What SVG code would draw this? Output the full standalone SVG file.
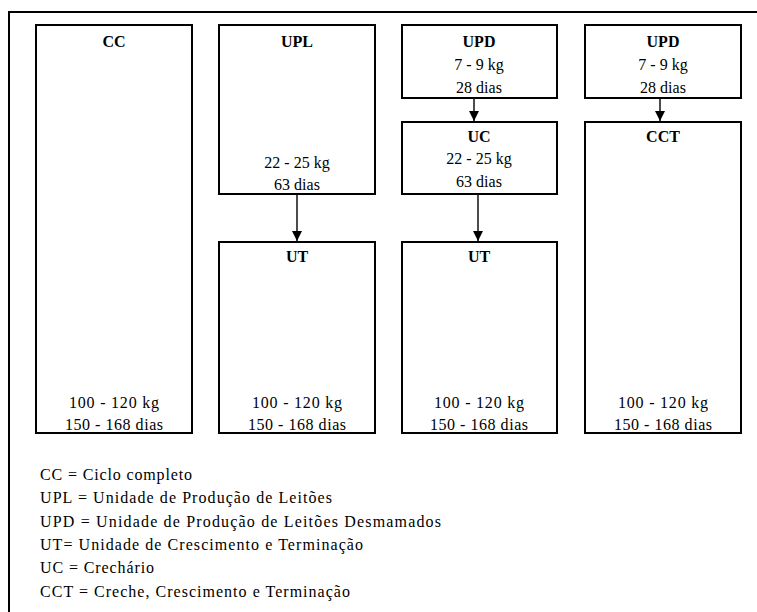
<svg xmlns="http://www.w3.org/2000/svg" width="757" height="612" viewBox="0 0 757 612">
<defs>
  <marker id="arr" markerWidth="10" markerHeight="10" refX="10" refY="5" orient="auto" markerUnits="userSpaceOnUse">
    <path d="M0,0 L10,5 L0,10 Z" fill="#000"/>
  </marker>
</defs>
<rect x="0" y="0" width="757" height="612" fill="#fff"/>
<rect x="9" y="12" width="760" height="620" fill="none" stroke="#000" stroke-width="2"/>

<g id="cc">
  <rect x="36" y="25" width="156" height="408" fill="#fff" stroke="#000" stroke-width="2"/>
  <text style="font-family:'Liberation Serif',serif;font-size:16px;font-weight:bold" text-anchor="middle" x="114" y="47">CC</text>
  <text style="font-family:'Liberation Serif',serif;font-size:16px" text-anchor="middle" x="114" y="408" textLength="90" lengthAdjust="spacing">100 - 120 kg</text>
  <text style="font-family:'Liberation Serif',serif;font-size:16px" text-anchor="middle" x="114" y="430" textLength="98" lengthAdjust="spacing">150 - 168 dias</text>
</g>

<g id="upl">
  <rect x="219" y="25" width="156" height="169" fill="#fff" stroke="#000" stroke-width="2"/>
  <text style="font-family:'Liberation Serif',serif;font-size:16px;font-weight:bold" text-anchor="middle" x="297" y="47">UPL</text>
  <text style="font-family:'Liberation Serif',serif;font-size:16px" text-anchor="middle" x="297" y="168">22 - 25 kg</text>
  <text style="font-family:'Liberation Serif',serif;font-size:16px" text-anchor="middle" x="297" y="190">63 dias</text>
</g>

<g id="ut1">
  <rect x="219" y="242" width="156" height="191" fill="#fff" stroke="#000" stroke-width="2"/>
  <text style="font-family:'Liberation Serif',serif;font-size:16px;font-weight:bold" text-anchor="middle" x="297" y="262">UT</text>
  <text style="font-family:'Liberation Serif',serif;font-size:16px" text-anchor="middle" x="297" y="408" textLength="90" lengthAdjust="spacing">100 - 120 kg</text>
  <text style="font-family:'Liberation Serif',serif;font-size:16px" text-anchor="middle" x="297" y="430" textLength="98" lengthAdjust="spacing">150 - 168 dias</text>
</g>

<g id="upd1">
  <rect x="402" y="25" width="155" height="73" fill="#fff" stroke="#000" stroke-width="2"/>
  <text style="font-family:'Liberation Serif',serif;font-size:16px;font-weight:bold" text-anchor="middle" x="479" y="47">UPD</text>
  <text style="font-family:'Liberation Serif',serif;font-size:16px" text-anchor="middle" x="479" y="70">7 - 9 kg</text>
  <text style="font-family:'Liberation Serif',serif;font-size:16px" text-anchor="middle" x="479" y="93">28 dias</text>
</g>

<g id="uc">
  <rect x="402" y="122" width="155" height="72" fill="#fff" stroke="#000" stroke-width="2"/>
  <text style="font-family:'Liberation Serif',serif;font-size:16px;font-weight:bold" text-anchor="middle" x="479" y="142">UC</text>
  <text style="font-family:'Liberation Serif',serif;font-size:16px" text-anchor="middle" x="479" y="164">22 - 25 kg</text>
  <text style="font-family:'Liberation Serif',serif;font-size:16px" text-anchor="middle" x="479" y="187">63 dias</text>
</g>

<g id="ut2">
  <rect x="402" y="242" width="155" height="191" fill="#fff" stroke="#000" stroke-width="2"/>
  <text style="font-family:'Liberation Serif',serif;font-size:16px;font-weight:bold" text-anchor="middle" x="479" y="262">UT</text>
  <text style="font-family:'Liberation Serif',serif;font-size:16px" text-anchor="middle" x="479" y="408" textLength="90" lengthAdjust="spacing">100 - 120 kg</text>
  <text style="font-family:'Liberation Serif',serif;font-size:16px" text-anchor="middle" x="479" y="430" textLength="98" lengthAdjust="spacing">150 - 168 dias</text>
</g>

<g id="upd2">
  <rect x="585" y="25" width="156" height="73" fill="#fff" stroke="#000" stroke-width="2"/>
  <text style="font-family:'Liberation Serif',serif;font-size:16px;font-weight:bold" text-anchor="middle" x="663" y="47">UPD</text>
  <text style="font-family:'Liberation Serif',serif;font-size:16px" text-anchor="middle" x="663" y="70">7 - 9 kg</text>
  <text style="font-family:'Liberation Serif',serif;font-size:16px" text-anchor="middle" x="663" y="93">28 dias</text>
</g>

<g id="cct">
  <rect x="585" y="122" width="156" height="311" fill="#fff" stroke="#000" stroke-width="2"/>
  <text style="font-family:'Liberation Serif',serif;font-size:16px;font-weight:bold" text-anchor="middle" x="663" y="142">CCT</text>
  <text style="font-family:'Liberation Serif',serif;font-size:16px" text-anchor="middle" x="663" y="408" textLength="90" lengthAdjust="spacing">100 - 120 kg</text>
  <text style="font-family:'Liberation Serif',serif;font-size:16px" text-anchor="middle" x="663" y="430" textLength="98" lengthAdjust="spacing">150 - 168 dias</text>
</g>

<g id="legend">
  <text style="font-family:'Liberation Serif',serif;font-size:16px" x="40" y="480" textLength="152" lengthAdjust="spacing">CC = Ciclo completo</text>
  <text style="font-family:'Liberation Serif',serif;font-size:16px" x="40" y="503.3" textLength="292" lengthAdjust="spacing">UPL = Unidade de Produção de Leitões</text>
  <text style="font-family:'Liberation Serif',serif;font-size:16px" x="40" y="526.7" textLength="401" lengthAdjust="spacing">UPD = Unidade de Produção de Leitões Desmamados</text>
  <text style="font-family:'Liberation Serif',serif;font-size:16px" x="40" y="550" textLength="323" lengthAdjust="spacing">UT= Unidade de Crescimento e Terminação</text>
  <text style="font-family:'Liberation Serif',serif;font-size:16px" x="40" y="573.3" textLength="114" lengthAdjust="spacing">UC = Crechário</text>
  <text style="font-family:'Liberation Serif',serif;font-size:16px" x="40" y="596.7" textLength="310" lengthAdjust="spacing">CCT = Creche, Crescimento e Terminação</text>
</g>

<g id="connectors">
  <line x1="297" y1="195" x2="297" y2="241" stroke="#000" stroke-width="1.4" marker-end="url(#arr)"/>
  <line x1="474" y1="99" x2="474" y2="121" stroke="#000" stroke-width="1.4" marker-end="url(#arr)"/>
  <line x1="478" y1="195" x2="478" y2="241" stroke="#000" stroke-width="1.4" marker-end="url(#arr)"/>
  <line x1="660" y1="99" x2="660" y2="121" stroke="#000" stroke-width="1.4" marker-end="url(#arr)"/>
</g>
</svg>
